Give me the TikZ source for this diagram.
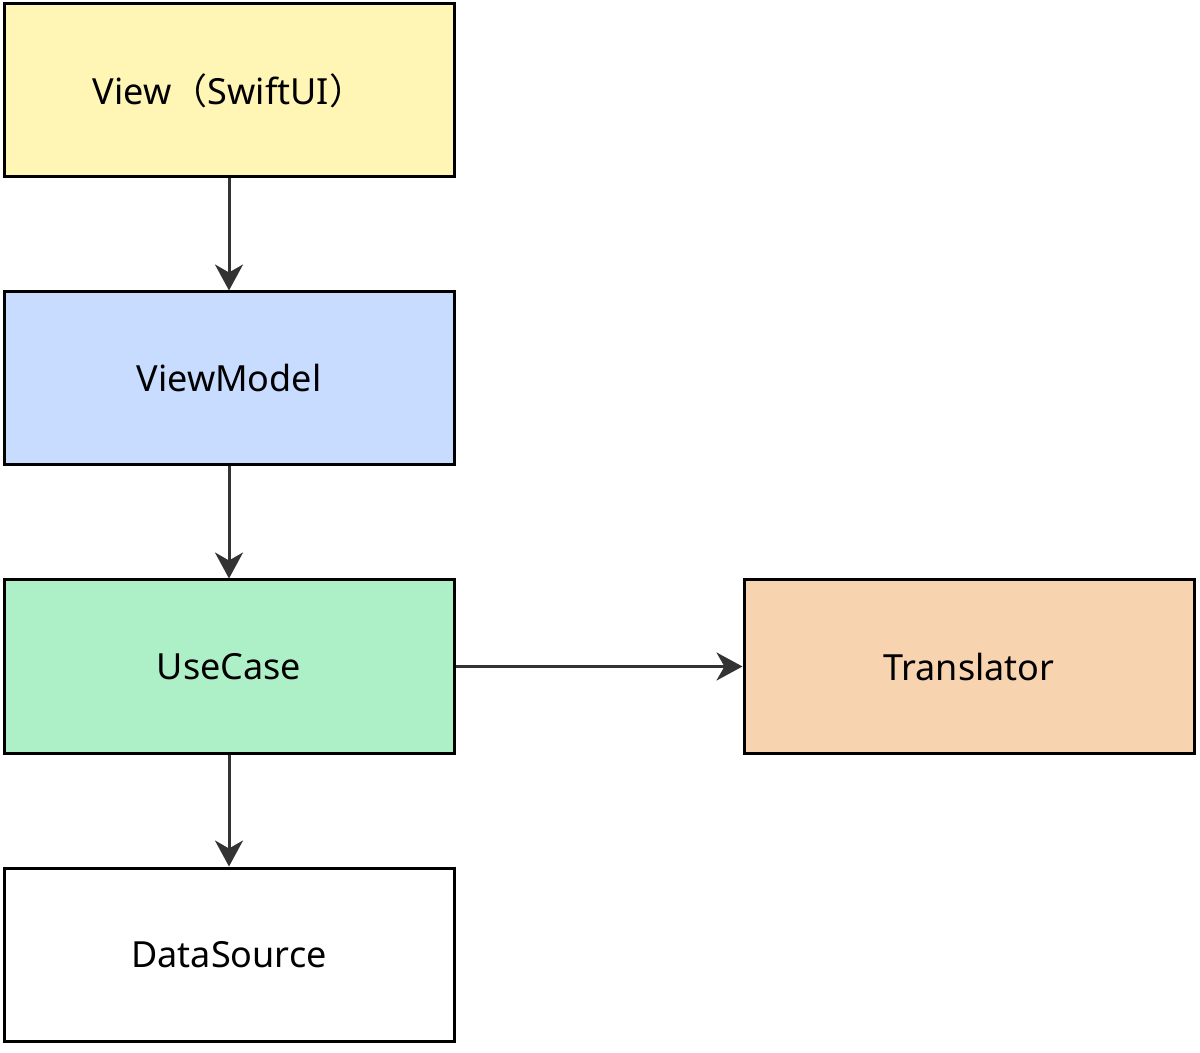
\documentclass[tikz,border=0pt]{standalone}
\usepackage{fontspec}
\setmainfont{Noto Sans}
\newfontfamily\cjk{Noto Sans CJK SC}
\usetikzlibrary{positioning,arrows.meta}
\definecolor{viewcol}{HTML}{FFF5B5}
\definecolor{vmcol}{HTML}{C8DCFF}
\definecolor{uccol}{HTML}{ADF0C8}
\definecolor{trcol}{HTML}{F8D3AF}
\definecolor{linecol}{HTML}{333333}
\begin{document}
\begin{tikzpicture}[x=0.5pt,y=0.5pt,node distance=56pt]
	\tikzstyle{layer}
	  =[draw=black, line width=1.5pt, rectangle, minimum width=225pt,
	  minimum height=86.5pt, font=\fontsize{18}{22}\selectfont, inner sep=0pt]
	\tikzstyle{flow}
	  =[draw=linecol, line width=1.5pt, -{Stealth[length=13pt,width=14pt,inset=4pt]}]

	\useasboundingbox (0,0) rectangle (1200,-1053);

	\node[layer, fill=viewcol, anchor=north west] (view)
	  at (2.5,-2.5) {View{\cjk （}SwiftUI{\cjk ）}};
	\node[layer, fill=vmcol] (vm)
	  [below=of view] {ViewModel};
	\node[layer, fill=uccol] (uc)
	  [below=of vm] {UseCase};
	\node[layer, fill=white] (ds)
	  [below=of uc] {DataSource};
	\node[layer, fill=trcol] (tr)
	  [right=143.5pt of uc] {Translator};

	\draw[flow] (view) -- (vm);
	\draw[flow] (vm) -- (uc);
	\draw[flow] (uc) -- (ds);
	\draw[flow] (uc) -- (tr);
\end{tikzpicture}
\end{document}
